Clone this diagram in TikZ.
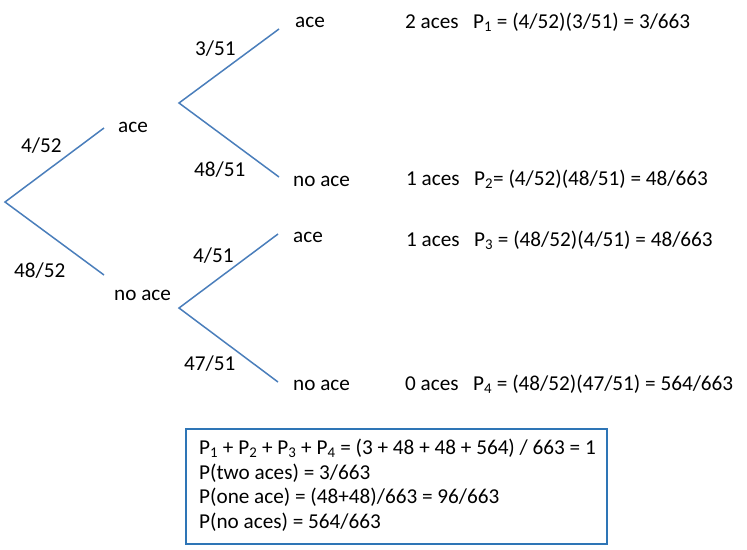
\documentclass[tikz,border=0pt]{standalone}
\usepackage{fontspec}
\setmainfont{Carlito}
\definecolor{branch}{HTML}{4A7EBB}
\definecolor{boxblue}{HTML}{2E75B6}
\newcommand{\sbs}[1]{\textsubscript{#1}}
\begin{document}
\begin{tikzpicture}[x=1pt,y=-1pt,
  every node/.style={font=\fontsize{21.2}{24.6}\selectfont, inner sep=0pt, text=black},
  br/.style={draw=branch, line width=1.5pt},
  lbl/.style={anchor=west, yshift=-2pt},
  res/.style={anchor=west, yshift=-2pt}]
\useasboundingbox (0,0) rectangle (747,549);
% branch points
\coordinate (r) at (5,202);
\coordinate (a1) at (104,128);
\coordinate (n1) at (104,275);
\coordinate (a2) at (179,103);
\coordinate (n2) at (179,308);
\coordinate (aa) at (279,29);
\coordinate (an) at (279,177);
\coordinate (na) at (278,234);
\coordinate (nn) at (278,382);
\draw[br] (a1) -- (r) -- (n1);
\draw[br] (aa) -- (a2) -- (an);
\draw[br] (na) -- (n2) -- (nn);
% outcome labels
\node[lbl] (t1) at (118,125) {ace};
\node[lbl] (t2) at (114,293) {no ace};
\node[lbl] (t3) at (295,20) {ace};
\node[lbl] (t4) at (293,179) {no ace};
\node[lbl] (t5) at (293,235) {ace};
\node[lbl] (t6) at (293,383) {no ace};
% probability labels
\node[lbl] (p1) at (21,144) {4/52};
\node[lbl] (p2) at (14,269) {48/52};
\node[lbl] (p3) at (195,47) {3/51};
\node[lbl] (p4) at (194,168) {48/51};
\node[lbl] (p5) at (193,254) {4/51};
\node[lbl] (p6) at (184,362) {47/51};
% results
\node[res] (c1) at (405,20) {2 aces};
\node[res] (e1) at (473,20) {P\sbs{1} = (4/52)(3/51) = 3/663};
\node[res] (c2) at (406,177) {1 aces};
\node[res] (e2) at (474,177) {P\sbs{2}= (4/52)(48/51) = 48/663};
\node[res] (c3) at (406,238) {1 aces};
\node[res] (e3) at (474,238) {P\sbs{3} = (48/52)(4/51) = 48/663};
\node[res] (c4) at (405,382) {0 aces};
\node[res] (e4) at (473,382) {P\sbs{4} = (48/52)(47/51) = 564/663};
% summary box
\draw[draw=boxblue, line width=1.8pt] (186,429) rectangle (607,544);
\node[anchor=north west, align=left] (sum) at (199,439) {P\sbs{1} + P\sbs{2} + P\sbs{3} + P\sbs{4} = (3 + 48 + 48 + 564) / 663 = 1\\
P(two aces) = 3/663\\
P(one ace) = (48+48)/663 = 96/663\\
P(no aces) = 564/663};
\end{tikzpicture}
\end{document}
